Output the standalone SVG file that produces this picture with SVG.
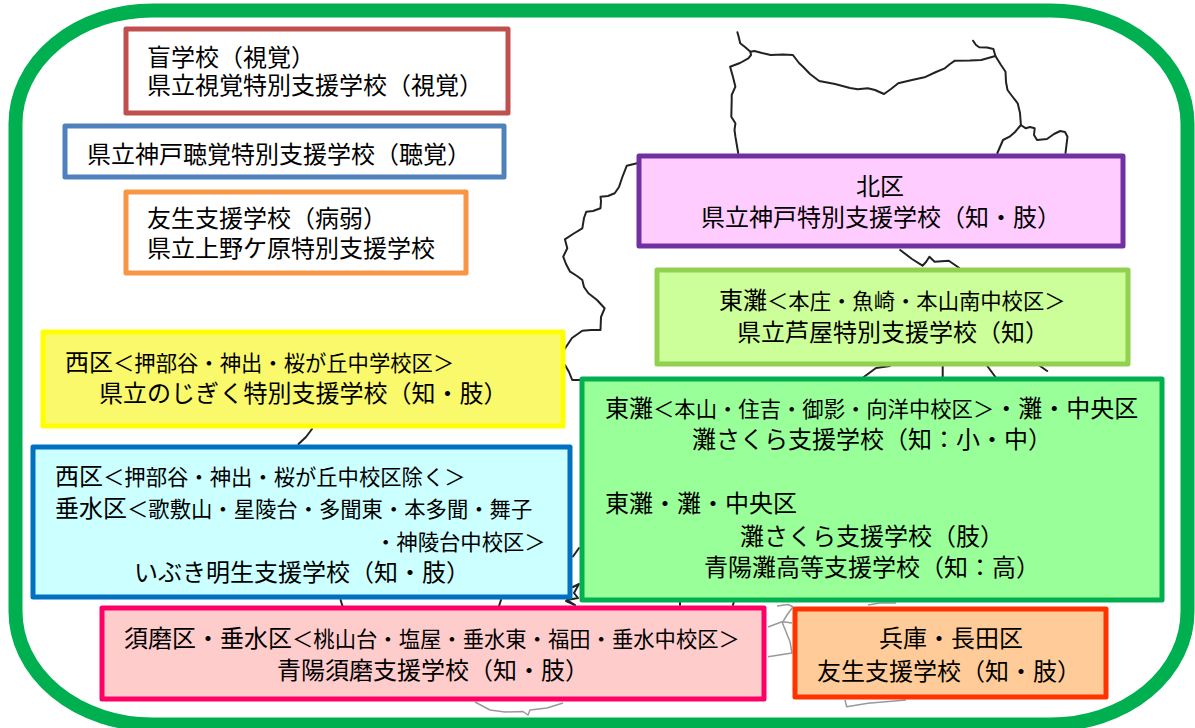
<svg xmlns="http://www.w3.org/2000/svg" width="1195" height="728" viewBox="0 0 1195 728">
<style>
text{font-family:"Noto Sans CJK JP","Noto Sans CJK SC",sans-serif;font-size:24px;fill:#000}
.s{font-size:21.33px}
.box{stroke-width:5;stroke-linejoin:round}
.map{fill:none;stroke:#222;stroke-width:2;stroke-linejoin:round;stroke-linecap:round}
.coast{fill:none;stroke:#999;stroke-width:1.5;stroke-linejoin:round}
</style>
<rect width="1195" height="728" fill="#fff"/>
<g id="connectors">
<path class="map" d="M737.4 32.3L739 38L740.2 43.3L745 47L750.4 51.700L751 55L748.3 58.300L740 63L730.1 66.700L733 77L735.4 86.700L731.700 95L731.700 100L731.3 116.700L735.4 123.3L734.500 130L735.4 136.700L738.200 153"/>
<path class="map" d="M750.400 51.700L754.400 51L762 53L770.600 55L783 54.500L792.900 55L799 63L803 66.700L810 74L819.200 81L835 84L850 88L857.700 89.300L867.800 88.300L875 90L884 94L891 89L898.200 83.300L912 80L924.500 77.300L936 72L944.800 68.300L950 64L954.900 60.700L970 60.500L981.200 60L995.400 56"/>
<path class="map" d="M973.100 40.700L976 45L979.200 47.300L987 47.500L993.400 49L995.400 56L1001 65L1005.500 71.700L1006 82L1007.500 90L1012 96L1017.700 103.300L1020 113L1020.900 125L1015 132L1009.600 136.700L1003 140L997.400 153"/>
<path class="map" d="M1020.900 125L1025.800 128.300L1030 127L1034.700 128.300L1034 135L1037 140L1047 139L1054 134L1060.200 131L1065 132L1067.500 136.700L1065.500 153"/>
<path class="map" d="M637 163.300L626.800 165.700L622 178L619 187L614.700 193.300L608 196L600.500 196.700L601 201L600.500 208.300L593 211L586.300 211.700L584 218L582.300 228.300L573 234L564.900 239.300L567.300 248.300L563.200 256.700L566 264L570.100 271.700L577 276L582.300 280L584 287L588.400 293.300L597 300L604.600 308.300L601 317L600.500 330L591 330L582.300 330.700L572 338L564 350"/>
<path class="map" d="M565 365L569 372L572.200 380L580 380"/>
<path class="map" d="M900.200 250L912 259L922.500 265.700L926 262L929.400 256.700L934.600 261.700L948.800 260.700L959 267.700"/>
<path class="map" d="M863.800 377L876 368L890 366M942.700 366L942.700 377M987.300 366L995.400 377M1040 366L1047.200 371"/>
<path class="map" d="M312 429L306 437L298.500 444"/>
<path class="map" d="M340.600 600L342.500 606"/>
<path class="map" d="M573 556.500L579 548"/>
<path class="map" d="M573 587L579 584L574 593L578 598L567 600L575 605L566 601"/>
<path class="map" d="M499 606L501 600M680 601L680 605M734 601L733 605"/>
<path class="coast" d="M475 702L490 710L505 712L523 711.500L528 715L530 710L547 708L563 703"/>
<path class="coast" d="M777 606L788 604.500L793 606.700L787 615L783 621.700L792 623M768 627L782 621.700L790 641.700L792 653L768 656.700"/>
<path class="coast" d="M845 700L846.700 706.700L868 703.300L906 700"/>
<path class="coast" d="M868 605L880 603L896 603"/>
</g>
<rect id="frame" x="15.500" y="10.500" width="1172" height="714" rx="137" ry="113" fill="none" stroke="#00B050" stroke-width="14"/>
<g id="node-blind"><rect class="box" x="126" y="29" width="382" height="84" fill="#fff" stroke="#C0504D"/>
<text x="147" y="66">盲学校（視覚）</text><text x="147" y="94">県立視覚特別支援学校（視覚）</text></g>
<g id="node-deaf"><rect class="box" x="65" y="126" width="439" height="51" fill="#fff" stroke="#4F81BD"/>
<text x="87" y="163">県立神戸聴覚特別支援学校（聴覚）</text></g>
<g id="node-sick"><rect class="box" x="126" y="192" width="340" height="81" fill="#fff" stroke="#F79646"/>
<text x="147" y="227">友生支援学校（病弱）</text><text x="147" y="257">県立上野ケ原特別支援学校</text></g>
<g id="node-kita"><rect class="box" x="639" y="156" width="484" height="90" fill="#FFCCFF" stroke="#7030A0"/>
<text x="856" y="195">北区</text><text x="701" y="226">県立神戸特別支援学校（知・肢）</text></g>
<g id="node-ashiya"><rect class="box" x="657" y="270" width="471" height="94" fill="#CCFF99" stroke="#92D050"/>
<text x="719" y="309">東灘<tspan class="s">＜本庄・魚崎・本山南中校区＞</tspan></text><text x="737" y="341">県立芦屋特別支援学校（知）</text></g>
<g id="node-nojigiku"><rect class="box" x="43" y="332" width="520" height="94" fill="#FAF96B" stroke="#FFFF00"/>
<text x="65" y="371">西区<tspan class="s">＜押部谷・神出・桜が丘中学校区＞</tspan></text><text x="99" y="402">県立のじぎく特別支援学校（知・肢）</text></g>
<g id="node-ibuki"><rect class="box" x="33" y="447" width="537" height="150" fill="#CCFFFF" stroke="#0070C0"/>
<text x="55" y="485">西区<tspan class="s">＜押部谷・神出・桜が丘中校区除く＞</tspan></text>
<text x="55" y="517">垂水区<tspan class="s">＜歌敷山・星陵台・多聞東・本多聞・舞子</tspan></text>
<text class="s" x="375" y="550">・神陵台中校区＞</text>
<text x="134" y="581">いぶき明生支援学校（知・肢）</text></g>
<g id="node-nada"><rect class="box" x="582" y="379" width="580" height="221" fill="#99FF99" stroke="#00B050"/>
<text x="605" y="417">東灘<tspan class="s">＜本山・住吉・御影・向洋中校区＞</tspan>・灘・中央区</text>
<text x="692" y="448">灘さくら支援学校（知：小・中）</text>
<text x="605" y="512">東灘・灘・中央区</text>
<text x="740" y="545">灘さくら支援学校（肢）</text>
<text x="704" y="576">青陽灘高等支援学校（知：高）</text></g>
<g id="node-suma"><rect class="box" x="102" y="608" width="662" height="91" fill="#FFCCCC" stroke="#FF0066"/>
<text x="124" y="647">須磨区・垂水区<tspan class="s">＜桃山台・塩屋・垂水東・福田・垂水中校区＞</tspan></text>
<text x="277" y="679">青陽須磨支援学校（知・肢）</text></g>
<g id="node-hyogo"><rect class="box" x="795" y="609" width="311" height="88" fill="#FFCC99" stroke="#FF3300"/>
<text x="879" y="647">兵庫・長田区</text><text x="817" y="680">友生支援学校（知・肢）</text></g>
</svg>
